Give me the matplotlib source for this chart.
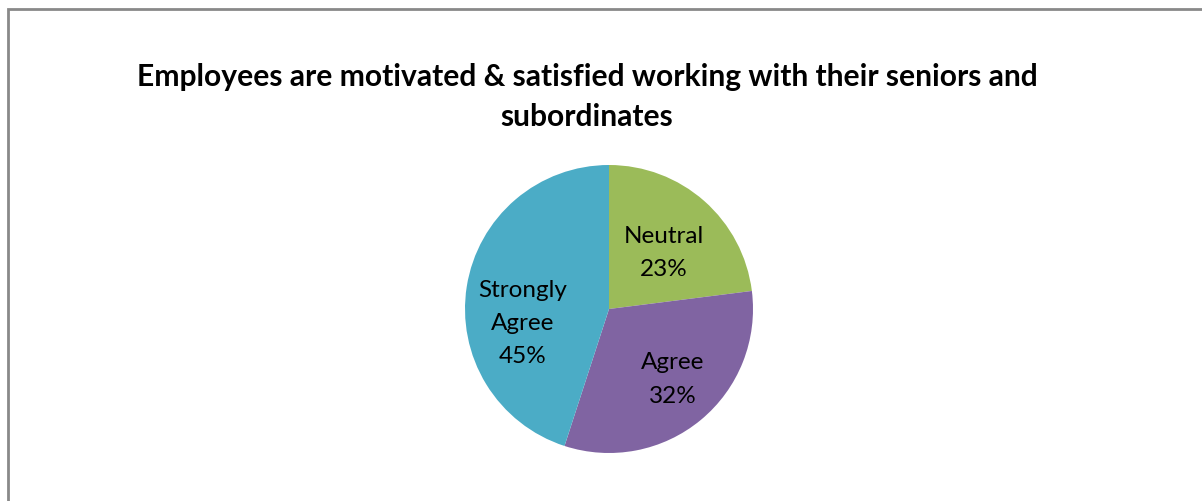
import matplotlib
matplotlib.use("Agg")
import matplotlib.pyplot as plt
from matplotlib.patches import Rectangle

title = "Employees are motivated & satisfied working with their seniors and\nsubordinates"
categories = ["Neutral", "Agree", "Strongly\nAgree"]
shares = [23, 32, 45]
colors = ["#9BBB59", "#8064A2", "#4BACC6"]

# label positions inside the pie (unit-radius coordinates)
label_xy = [(0.38, 0.39), (0.44, -0.49), (-0.60, -0.10)]

plt.rcParams["font.family"] = ["Lato", "DejaVu Sans"]

W, H = 1202, 501
fig = plt.figure(figsize=(W / 100, H / 100), dpi=100)
fig.patch.set_facecolor("white")

# chart area frame (runs off the right and bottom edges)
fig.add_artist(Rectangle((8 / W, -0.1), 1.2, 1 - 9 / H + 0.1,
                         transform=fig.transFigure, fill=False,
                         edgecolor="#898989", linewidth=2))

cx, cy, r = 609, 309, 144
ax = fig.add_axes([(cx - r) / W, 1 - (cy + r) / H, 2 * r / W, 2 * r / H])
wedges, _ = ax.pie(shares, colors=colors, startangle=90, counterclock=False,
                   radius=1, wedgeprops=dict(linewidth=0))
ax.set_xlim(-1, 1)
ax.set_ylim(-1, 1)
ax.set_aspect("equal")
ax.axis("off")

for name, val, (x, y) in zip(categories, shares, label_xy):
    ax.text(x, y, f"{name}\n{val}%", ha="center", va="center",
            fontsize=17.5, color="black", linespacing=1.72)

fig.text(587 / W, 1 - 97 / H, title, ha="center", va="center",
         fontsize=21.6, fontweight="bold", linespacing=1.48)

fig.savefig("out.png", dpi=100)
